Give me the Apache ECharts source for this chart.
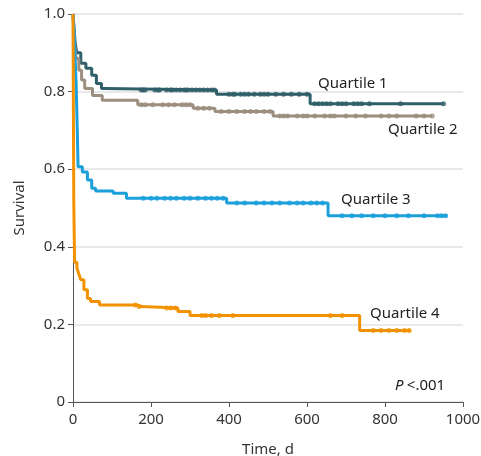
<!DOCTYPE html>
<html><head><meta charset="utf-8">
<script src="https://cdn.jsdelivr.net/npm/echarts@6/dist/echarts.min.js"></script>
<style>html,body{margin:0;padding:0;background:#fff}#c{width:481px;height:456px}</style>
</head><body><div id="c"></div>
<script>
// Kaplan-Meier step points [time (d), survival]
var q1Steps = [[0,1],[3,0.96],[6,0.92],[10,0.90],[20,0.873],[33,0.86],[48,0.842],[60,0.821],[73,0.808],[80,0.804],[368,0.793],[608,0.769],[950,0.769]];
var q2Steps = [[0,1],[3,0.93],[8,0.885],[15,0.855],[22,0.83],[30,0.808],[50,0.79],[75,0.778],[166,0.766],[308,0.757],[364,0.749],[513,0.737],[921,0.737]];
var q3Steps = [[0,1],[3,0.95],[8,0.82],[11,0.70],[13,0.606],[24,0.593],[37,0.572],[48,0.551],[58,0.544],[103,0.538],[137,0.525],[394,0.513],[654,0.48],[960,0.48]];
var q4Steps = [[0,1],[2,0.52],[4,0.36],[10,0.345],[15,0.33],[20,0.315],[28,0.289],[37,0.267],[45,0.259],[68,0.25],[166,0.246],[175,0.242],[269,0.233],[300,0.223],[735,0.184],[865,0.184]];
// censoring times (d)
var q1Censor = [175,180,185,210,218,222,240,250,255,265,275,285,290,295,305,315,325,335,345,355,362,400,410,415,430,440,450,465,480,490,500,520,540,560,580,600,620,630,640,650,660,680,690,700,720,730,740,760,840,950];
var q2Censor = [175,185,205,230,245,260,280,290,300,320,335,350,380,400,420,440,455,470,490,505,530,540,550,575,590,600,620,645,660,670,700,725,750,790,810,830,880,900,921];
var q3Censor = [180,200,215,235,250,265,285,300,320,340,355,370,385,420,440,470,490,510,530,555,575,590,610,625,640,690,715,740,770,800,830,860,900,935,945,955];
var q4Censor = [160,170,240,250,262,330,340,355,375,410,660,690,770,790,810,830,850,862];
var xTicks = [0,200,400,600,800,1000];
var yTicks = [0,0.2,0.4,0.6,0.8,1.0];
var names = ['Quartile 1','Quartile 2','Quartile 3','Quartile 4'];
var colors = ['#2f5f69','#9c8f7f','#1ba0dc','#f39200'];

function survAt(steps, t){var s=steps[0][1];for(var i=0;i<steps.length;i++){if(steps[i][0]<=t)s=steps[i][1];}return s;}
var allSteps=[q1Steps,q2Steps,q3Steps,q4Steps];
var allCensor=[q1Censor,q2Censor,q3Censor,q4Censor];
var series=[];
for(var k=0;k<4;k++){
  series.push({type:'line',name:names[k],step:'end',data:allSteps[k],showSymbol:false,lineStyle:{color:colors[k],width:3},itemStyle:{color:colors[k]},z:2+k,animation:false});
  series.push({type:'scatter',name:names[k]+' c',data:allCensor[k].map(function(t){return [t,survAt(allSteps[k],t)];}),symbol:'circle',symbolSize:5,itemStyle:{color:colors[k]},z:2+k,animation:false});
}
var FONT='Noto Sans';
var chart=echarts.init(document.getElementById('c'),null,{renderer:'canvas'});
chart.setOption({
  animation:false,
  grid:{left:73,right:18,top:14,bottom:54,containLabel:false,outerBoundsMode:'none'},
  xAxis:{type:'value',min:xTicks[0],max:xTicks[xTicks.length-1],interval:200,
    name:'Time, d',nameLocation:'middle',nameGap:40,nameTextStyle:{fontFamily:FONT,fontSize:15,color:'#333'},
    axisLine:{show:true,onZero:false,lineStyle:{color:'#555',width:1}},
    axisTick:{show:true,length:5,lineStyle:{color:'#555'}},
    axisLabel:{fontFamily:FONT,fontSize:15,color:'#333',margin:10,formatter:function(v){return String(v);}},
    splitLine:{show:false}},
  yAxis:{type:'value',min:yTicks[0],max:yTicks[yTicks.length-1],interval:0.2,
    name:'Survival',nameLocation:'middle',nameGap:46,nameRotate:90,nameTextStyle:{fontFamily:FONT,fontSize:15,color:'#333'},
    axisLine:{show:true,lineStyle:{color:'#555',width:1}},
    axisTick:{show:true,length:5,lineStyle:{color:'#555'}},
    axisLabel:{fontFamily:FONT,fontSize:15,color:'#333',margin:8,formatter:function(v){return v===0?'0':v.toFixed(1);}},
    splitLine:{show:true,lineStyle:{color:'#e2e2e2',width:1.5}}},
  series:series,
  graphic:[
    {type:'text',left:318,top:76,style:{text:'Quartile 1',font:'15px "Noto Sans"',fill:'#222'}},
    {type:'text',left:388,top:122,style:{text:'Quartile 2',font:'15px "Noto Sans"',fill:'#222'}},
    {type:'text',left:341,top:192,style:{text:'Quartile 3',font:'15px "Noto Sans"',fill:'#222'}},
    {type:'text',left:370,top:306,style:{text:'Quartile 4',font:'15px "Noto Sans"',fill:'#222'}},
    {type:'text',left:395,top:378,style:{rich:{i:{fontFamily:FONT,fontStyle:'italic',fontSize:15,fill:'#222'},n:{fontFamily:FONT,fontSize:15,fill:'#222'}},text:'{i|P} {n|<.001}'}}
  ]
});
</script></body></html>
